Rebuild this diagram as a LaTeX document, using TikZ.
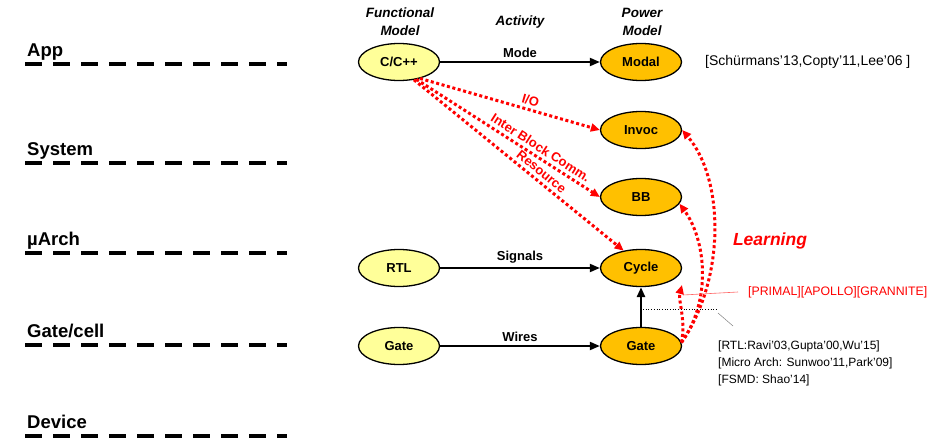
\documentclass[tikz,border=0pt]{standalone}
\usepackage{fontspec}
\setmainfont{Liberation Sans}
\usetikzlibrary{arrows.meta,shapes.geometric}
\definecolor{fmyellow}{HTML}{FFFF99}
\definecolor{pmorange}{HTML}{FFC000}
\begin{document}
\begin{tikzpicture}[x=1pt,y=-1pt,
    layer/.style={anchor=base west,inner sep=0pt,font=\fontsize{18.5}{20}\selectfont\bfseries},
    layerline/.style={line width=4pt,dash pattern=on 17pt off 11pt},
    header/.style={align=center,font=\fontsize{13.5}{18}\selectfont\bfseries\itshape},
    fmodel/.style={ellipse,draw,line width=1.3pt,fill=fmyellow,minimum width=81pt,minimum height=37pt,inner sep=0pt,font=\fontsize{13}{15}\selectfont\bfseries},
    pmodel/.style={fmodel,fill=pmorange},
    actarrow/.style={line width=2pt,-{Triangle[length=10pt,width=8pt]}},
    actlabel/.style={above,font=\fontsize{13}{15}\selectfont\bfseries},
    learnarrow/.style={red,line width=3pt,dash pattern=on 3pt off 2.6pt,-{Triangle[length=9pt,width=8pt]}},
    redlabel/.style={sloped,above,red,font=\fontsize{13}{15}\selectfont\bfseries},
    refs/.style={inner sep=0pt,align=left}]
    \path[use as bounding box,fill=white] (0,0) rectangle (930,442);
    %\draw[lightgray,step=20] (0,0) grid (930,442);

    % abstraction levels
    \foreach \lname/\ly in {App/56,System/155,µArch/245,{Gate/cell}/337,Device/428} {
        \node[layer] (lay\ly) at (27,\ly) {\lname};
        \draw[layerline] (25,\ly+7.5) -- (287,\ly+7.5);
    }

    % column headers
    \node[header] (hfunc) at (400,22) {Functional\\Model};
    \node[header] (hact) at (520,22) {Activity};
    \node[header] (hpow) at (642,22) {Power\\Model};

    % models
    \node[fmodel] (cpp) at (399,62) {C/C++};
    \node[fmodel] (rtl) at (399,268) {RTL};
    \node[fmodel] (gateF) at (399,346) {Gate};
    \node[pmodel] (modal) at (641,62) {Modal};
    \node[pmodel] (invoc) at (641,130) {Invoc};
    \node[pmodel] (bb) at (641,197) {BB};
    \node[pmodel] (cycle) at (641,268) {Cycle};
    \node[pmodel] (gateP) at (641,346) {Gate};

    % activities
    \draw[actarrow] (cpp) -- node[actlabel] {Mode} (modal);
    \draw[actarrow] (rtl) -- node[actlabel] {Signals} (cycle);
    \draw[actarrow] (gateF) -- node[actlabel] {Wires} (gateP);
    \draw[actarrow,line width=2.5pt] (gateP) -- (cycle);

    \draw[learnarrow] (cpp.-38) -- node[redlabel,pos=0.6] {I/O} (invoc.west);
    \draw[learnarrow] (cpp.-45) -- node[redlabel,pos=0.65] {Inter Block Comm.} (bb.west);
    \draw[learnarrow] (cpp.-50) -- node[redlabel,pos=0.58] {Resource} (cycle.135);

    % learning
    \coordinate (cyctip) at (682,285);
    \draw[learnarrow] (gateP.5) .. controls (725,280) and (725,180) .. (invoc.east);
    \draw[learnarrow] (gateP.5) .. controls (712,300) and (706,240) .. (bb.-10);
    \draw[learnarrow] (gateP.5) .. controls (686,320) and (678,300) .. (cyctip);
    \node[red,font=\fontsize{17.5}{20}\selectfont\bfseries\itshape] (learning) at (770,241) {Learning};

    % references
    \node[refs,anchor=west,font=\fontsize{14}{16}\selectfont] (schref) at (705,62) {[Schürmans’13,Copty’11,Lee’06 ]};
    \node[refs,anchor=west,red,font=\fontsize{12.3}{14}\selectfont] (prim) at (748,292) {[PRIMAL][APOLLO][GRANNITE]};
    \coordinate (primfoot) at (683,295);
    \draw[red!60,line width=0.6pt] (primfoot) -- ([xshift=-10pt]prim.west);
    \node[refs,anchor=north west,font=\fontsize{12}{17}\selectfont] (gateref) at (718,340.5)
        {{[RTL:Ravi’03,Gupta’00,Wu’15]}\\{[Micro Arch: Sunwoo’11,Park’09]}\\{[FSMD: Shao’14]}};
    \coordinate (dotL) at (643,309);
    \coordinate (dotR) at (718,309);
    \draw[dotted,line width=0.7pt] (dotL) -- (dotR);
    \draw[gray,line width=0.5pt] (718,313) -- (733,326);
\end{tikzpicture}
\end{document}
